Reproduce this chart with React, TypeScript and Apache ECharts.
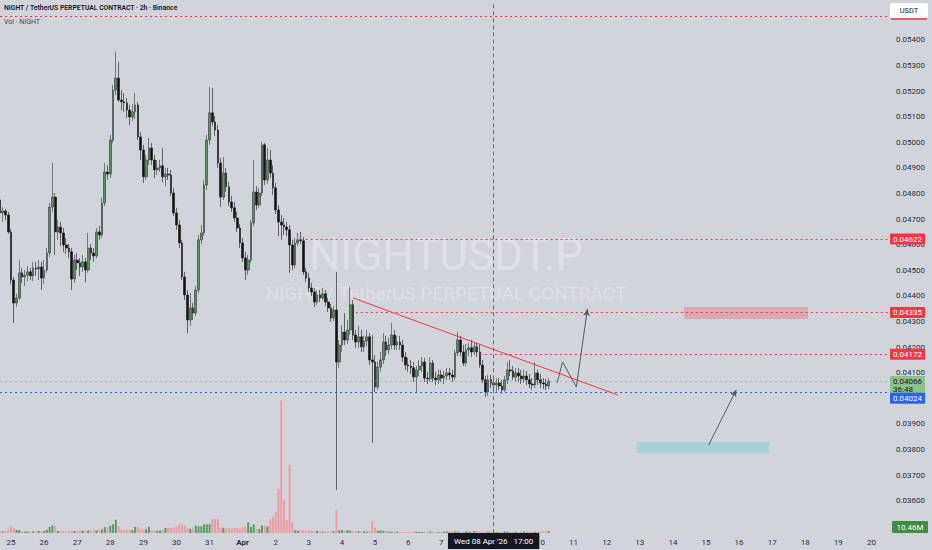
import * as echarts from "echarts";
import { useEffect, useRef } from "react";

// 2h slots, first one at Mar 24 16:00 (UTC), enough to reach the right edge (Apr 20)
const START_UTC = Date.UTC(2026, 2, 24, 16);
const SLOT_HOURS = 2;
const SLOT_COUNT = 323;
const MONTHS = ["Jan", "Feb", "Mar", "Apr", "May", "Jun", "Jul", "Aug", "Sep", "Oct", "Nov", "Dec"];

// [open, close, low, high]
const candles: number[][] = [
  [0.04775, 0.04724, 0.04712, 0.04794], [0.04724, 0.04732, 0.04689, 0.04747], [0.04732, 0.04716, 0.04697, 0.0474],
  [0.04716, 0.0465, 0.04642, 0.04728], [0.0465, 0.04462, 0.04447, 0.04661], [0.04462, 0.04372, 0.04294, 0.04474],
  [0.04372, 0.04392, 0.04357, 0.04408], [0.04392, 0.0449, 0.04384, 0.0454], [0.0449, 0.04474, 0.04451, 0.04509],
  [0.04474, 0.04482, 0.04439, 0.04501], [0.04482, 0.04494, 0.04458, 0.04517], [0.04494, 0.04478, 0.04462, 0.04509],
  [0.04478, 0.04509, 0.04458, 0.04533], [0.04509, 0.04505, 0.04478, 0.04533], [0.04505, 0.04513, 0.04462, 0.0454],
  [0.04513, 0.0447, 0.04423, 0.04533], [0.0447, 0.04501, 0.04447, 0.0454], [0.04501, 0.04568, 0.0449, 0.04587],
  [0.04568, 0.04747, 0.04552, 0.04763], [0.04747, 0.04786, 0.04728, 0.04919], [0.04786, 0.0465, 0.0456, 0.04802],
  [0.0465, 0.04669, 0.04619, 0.04697], [0.04669, 0.04646, 0.04595, 0.04689], [0.04646, 0.04599, 0.04572, 0.04665],
  [0.04599, 0.04587, 0.04564, 0.04626], [0.04587, 0.04572, 0.04548, 0.04603], [0.04572, 0.04466, 0.04423, 0.04587],
  [0.04466, 0.0454, 0.04451, 0.0456], [0.0454, 0.04529, 0.04501, 0.04568], [0.04529, 0.04513, 0.04478, 0.04548],
  [0.04513, 0.04533, 0.04494, 0.0456], [0.04533, 0.04501, 0.04454, 0.04548], [0.04501, 0.04587, 0.0449, 0.04646],
  [0.04587, 0.04568, 0.0454, 0.04603], [0.04568, 0.04556, 0.04533, 0.04587], [0.04556, 0.0465, 0.04548, 0.04665],
  [0.0465, 0.04638, 0.04619, 0.04673], [0.04638, 0.04763, 0.04626, 0.04783], [0.04763, 0.04884, 0.04751, 0.04919],
  [0.04884, 0.04876, 0.04853, 0.04911], [0.04876, 0.05009, 0.04861, 0.05029], [0.05009, 0.05204, 0.04997, 0.05224],
  [0.05204, 0.05251, 0.05185, 0.05353], [0.05251, 0.05165, 0.05158, 0.05314], [0.05165, 0.05158, 0.05126, 0.05204],
  [0.05158, 0.05154, 0.05119, 0.05193], [0.05154, 0.05126, 0.05095, 0.05173], [0.05126, 0.05099, 0.05068, 0.05146],
  [0.05099, 0.05119, 0.05083, 0.0515], [0.05119, 0.05146, 0.05091, 0.05193], [0.05146, 0.05021, 0.05009, 0.05158],
  [0.05021, 0.0497, 0.04931, 0.0504], [0.0497, 0.04865, 0.04841, 0.0499], [0.04865, 0.04931, 0.04853, 0.04951],
  [0.04931, 0.04978, 0.04911, 0.05017], [0.04978, 0.04931, 0.04911, 0.04997], [0.04931, 0.04892, 0.04861, 0.04951],
  [0.04892, 0.049, 0.04872, 0.04931], [0.049, 0.04908, 0.04884, 0.04931], [0.04908, 0.04865, 0.04845, 0.04978],
  [0.04865, 0.04876, 0.04829, 0.049], [0.04876, 0.04872, 0.04853, 0.049], [0.04872, 0.04802, 0.0479, 0.04892],
  [0.04802, 0.04724, 0.04712, 0.04822], [0.04724, 0.04677, 0.04658, 0.04744], [0.04677, 0.04607, 0.04587, 0.04697],
  [0.04607, 0.04474, 0.04462, 0.04619], [0.04474, 0.04404, 0.04384, 0.04494], [0.04404, 0.04306, 0.04255, 0.04423],
  [0.04306, 0.04353, 0.04283, 0.04411], [0.04353, 0.04333, 0.04306, 0.04372], [0.04333, 0.04423, 0.04322, 0.04439],
  [0.04423, 0.04619, 0.04411, 0.04638], [0.04619, 0.04646, 0.04603, 0.04677], [0.04646, 0.04833, 0.04634, 0.04853],
  [0.04833, 0.05009, 0.04814, 0.05029], [0.05009, 0.05115, 0.0499, 0.05216], [0.05115, 0.05079, 0.05064, 0.05212],
  [0.05079, 0.05048, 0.05025, 0.05103], [0.05048, 0.04919, 0.049, 0.05068], [0.04919, 0.04786, 0.04747, 0.04939],
  [0.04786, 0.0488, 0.04775, 0.04943], [0.0488, 0.04826, 0.04806, 0.049], [0.04826, 0.04767, 0.04751, 0.04845],
  [0.04767, 0.04744, 0.04728, 0.0479], [0.04744, 0.04704, 0.04689, 0.04767], [0.04704, 0.04665, 0.0465, 0.04728],
  [0.04665, 0.04607, 0.04587, 0.04681], [0.04607, 0.04548, 0.04533, 0.04626], [0.04548, 0.04501, 0.04462, 0.04572],
  [0.04501, 0.0454, 0.04482, 0.0456], [0.0454, 0.04685, 0.04529, 0.04697], [0.04685, 0.04806, 0.04673, 0.04931],
  [0.04806, 0.04755, 0.04736, 0.04829], [0.04755, 0.04802, 0.04744, 0.04822], [0.04802, 0.0499, 0.0479, 0.05001],
  [0.0499, 0.04853, 0.04833, 0.04997], [0.04853, 0.04931, 0.04837, 0.04978], [0.04931, 0.0488, 0.04861, 0.0497],
  [0.0488, 0.04822, 0.04794, 0.04911], [0.04822, 0.04736, 0.0472, 0.04841], [0.04736, 0.04689, 0.04634, 0.04755],
  [0.04689, 0.04677, 0.04619, 0.04716], [0.04677, 0.04669, 0.04638, 0.04704], [0.04669, 0.04658, 0.04634, 0.04689],
  [0.04658, 0.04599, 0.0449, 0.04677], [0.04599, 0.04521, 0.04501, 0.04619], [0.04521, 0.04607, 0.04509, 0.04626],
  [0.04607, 0.04619, 0.04595, 0.04646], [0.04619, 0.04615, 0.04603, 0.0465], [0.04615, 0.04494, 0.04482, 0.0463],
  [0.04494, 0.0447, 0.04454, 0.04509], [0.0447, 0.04431, 0.04415, 0.0449], [0.04431, 0.04415, 0.044, 0.04451],
  [0.04415, 0.04376, 0.04357, 0.04431], [0.04376, 0.04404, 0.04365, 0.04423], [0.04404, 0.04392, 0.04376, 0.04423],
  [0.04392, 0.04408, 0.04384, 0.04431], [0.04408, 0.04376, 0.04361, 0.04423], [0.04376, 0.04353, 0.04337, 0.04392],
  [0.04353, 0.04314, 0.04298, 0.04369], [0.04314, 0.04345, 0.04302, 0.04361], [0.04345, 0.04142, 0.03642, 0.04494],
  [0.04142, 0.04208, 0.04119, 0.04228], [0.04208, 0.04259, 0.04181, 0.04286], [0.04259, 0.04228, 0.04208, 0.04333],
  [0.04228, 0.04267, 0.04212, 0.04306], [0.04267, 0.04365, 0.04247, 0.04435], [0.04365, 0.04247, 0.04228, 0.04384],
  [0.04247, 0.0422, 0.04197, 0.04267], [0.0422, 0.0424, 0.04197, 0.04283], [0.0424, 0.04201, 0.04181, 0.04267],
  [0.04201, 0.04224, 0.04181, 0.04244], [0.04224, 0.0424, 0.04204, 0.04267], [0.0424, 0.0415, 0.0413, 0.04255],
  [0.0415, 0.04142, 0.03826, 0.04247], [0.04142, 0.04044, 0.04025, 0.04169], [0.04044, 0.04122, 0.04033, 0.04142],
  [0.04122, 0.0415, 0.04103, 0.04181], [0.0415, 0.0422, 0.04134, 0.04255], [0.0422, 0.04189, 0.04165, 0.04244],
  [0.04189, 0.04208, 0.04173, 0.04236], [0.04208, 0.04247, 0.04193, 0.04294], [0.04247, 0.04208, 0.04189, 0.04267],
  [0.04208, 0.0422, 0.04189, 0.04244], [0.0422, 0.04208, 0.04189, 0.04244], [0.04208, 0.04161, 0.04142, 0.04228],
  [0.04161, 0.0413, 0.04111, 0.04181], [0.0413, 0.04126, 0.04103, 0.04158], [0.04126, 0.04119, 0.04095, 0.0415],
  [0.04119, 0.04083, 0.04064, 0.04142], [0.04083, 0.04111, 0.04021, 0.04126], [0.04111, 0.04126, 0.04087, 0.0415],
  [0.04126, 0.04142, 0.04103, 0.04161], [0.04142, 0.04079, 0.04064, 0.04158], [0.04079, 0.04076, 0.04056, 0.04103],
  [0.04076, 0.04138, 0.04064, 0.04161], [0.04138, 0.04079, 0.04064, 0.0415], [0.04079, 0.04072, 0.04052, 0.04103],
  [0.04072, 0.04091, 0.04056, 0.04111], [0.04091, 0.04079, 0.04064, 0.04111], [0.04079, 0.04087, 0.04056, 0.04107],
  [0.04087, 0.04099, 0.04072, 0.04119], [0.04099, 0.04091, 0.04072, 0.04119], [0.04091, 0.04083, 0.04064, 0.04111],
  [0.04083, 0.04177, 0.04072, 0.04189], [0.04177, 0.04228, 0.04165, 0.04259], [0.04228, 0.04181, 0.04165, 0.04244],
  [0.04181, 0.04138, 0.04126, 0.04208], [0.04138, 0.04189, 0.04126, 0.04212], [0.04189, 0.04197, 0.04165, 0.04216],
  [0.04197, 0.04181, 0.04161, 0.04228], [0.04181, 0.04201, 0.04169, 0.04216], [0.04201, 0.04181, 0.04161, 0.04216],
  [0.04181, 0.0413, 0.04119, 0.04208], [0.0413, 0.04072, 0.0406, 0.0415], [0.04072, 0.04025, 0.04005, 0.04087],
  [0.04025, 0.04072, 0.04009, 0.04091], [0.04072, 0.0406, 0.0404, 0.04091], [0.0406, 0.04052, 0.04033, 0.04083],
  [0.04052, 0.0406, 0.04025, 0.04079], [0.0406, 0.04048, 0.04033, 0.04079], [0.04048, 0.04033, 0.04017, 0.04072],
  [0.04033, 0.04072, 0.04025, 0.04087], [0.04072, 0.04111, 0.04056, 0.04142], [0.04111, 0.04107, 0.04087, 0.0415],
  [0.04107, 0.04083, 0.04072, 0.04126], [0.04083, 0.04099, 0.04068, 0.04119], [0.04099, 0.04087, 0.04064, 0.04119],
  [0.04087, 0.04076, 0.04056, 0.04111], [0.04076, 0.04087, 0.0406, 0.04111], [0.04087, 0.04072, 0.04052, 0.04107],
  [0.04072, 0.04056, 0.0404, 0.04095], [0.04056, 0.04052, 0.04033, 0.04079], [0.04052, 0.04099, 0.0404, 0.04142],
  [0.04099, 0.04072, 0.04052, 0.04111], [0.04072, 0.0406, 0.0404, 0.04095], [0.0406, 0.04056, 0.04036, 0.04079],
  [0.04056, 0.04048, 0.04033, 0.04076], [0.04048, 0.04066, 0.04036, 0.04079],
];

// volume per candle, in millions
const volumes: number[] = [
  10, 9, 11, 25, 40, 32, 18, 18, 10, 8,
  9, 8, 10, 8, 12, 12, 12, 20, 36, 46,
  40, 12, 11, 12, 10, 12, 14, 12, 12, 16,
  14, 12, 16, 12, 18, 16, 20, 22, 36, 34,
  44, 52, 80, 40, 20, 18, 20, 20, 18, 36,
  36, 24, 24, 22, 36, 18, 16, 14, 16, 18,
  30, 32, 30, 34, 36, 52, 52, 44, 28, 26,
  28, 44, 40, 40, 52, 52, 52, 84, 84, 84,
  32, 32, 28, 30, 28, 32, 30, 26, 34, 40,
  64, 36, 52, 24, 24, 44, 44, 40, 84, 100,
  126, 264, 798, 198, 78, 408, 66, 16, 14, 16,
  18, 14, 16, 14, 12, 14, 10, 8, 9, 10,
  8, 10, 138, 16, 18, 14, 18, 14, 10, 12,
  10, 9, 10, 8, 10, 72, 32, 14, 16, 12,
  14, 8, 7, 9, 8, 6, 7, 8, 6, 7,
  9, 8, 7, 6, 8, 7, 9, 8, 7, 6,
  7, 8, 9, 12, 10, 8, 9, 7, 8, 10,
  8, 9, 11, 12, 8, 7, 9, 8, 10, 7,
  6, 8, 9, 10, 8, 7, 6, 8, 7, 9,
  8, 10, 9, 8, 7, 9, 8, 10, 9, 10.46,
];

// drawn levels
const topLine = 0.05494;
const redLevels = [0.04622, 0.04335, 0.04172];
const redLevelStartSlots = [109, 129, 174];
const lastPrice = 0.04066;
const countdown = "36:48";
const blueLevel = 0.04024;
const lastVolumeLabel = "10.46M";

// trendline and projected paths: [slot, price]
const trendLine = [[128, 0.04392], [224, 0.04013]];
const projection = [[202, 0.0406], [204, 0.04142], [209, 0.04044], [213, 0.04349]];
const targetArrow = [[257, 0.03818], [267, 0.04033]];
// zones: [fromSlot, toSlot, topPrice, bottomPrice]
const sellZone = [248, 293, 0.04357, 0.0431];
const buyZone = [231, 279, 0.03829, 0.03786];

const crosshairSlot = 179;
const crosshairLabel = "Wed 08 Apr '26   17:00";

const FONT = "Roboto, 'Noto Sans', sans-serif";
const RED = "#f23645";
const BG = "#d2d4dc";
const TEXT = "#2a2e39";

const slots = Array.from({ length: SLOT_COUNT }, (_, k) => {
  const d = new Date(START_UTC + k * SLOT_HOURS * 3600e3);
  return `${d.getUTCMonth()}-${d.getUTCDate()}-${d.getUTCHours()}`;
});

const tag = (bg: string, color = "#fff") => ({
  show: true,
  position: "end" as const,
  distance: 2,
  color,
  backgroundColor: bg,
  fontFamily: FONT,
  fontSize: 8,
  lineHeight: 8,
  padding: [2, 3, 1, 3],
  borderRadius: 1,
});

const dotted = (color: string) => ({ color, type: [2, 3] as number[], width: 1 });

const App = () => {
  const chartRef = useRef<HTMLDivElement>(null);

  useEffect(() => {
    if (!chartRef.current) return;

    const chart = echarts.init(chartRef.current, undefined, { renderer: "svg" });
    const last = SLOT_COUNT - 1;

    const markLineData: any[] = [
      { yAxis: topLine, lineStyle: dotted(RED) },
      ...redLevels.map((p, k) => [
        { coord: [redLevelStartSlots[k], p], lineStyle: dotted(RED), label: { ...tag(RED), formatter: p.toFixed(5) } },
        { coord: [last, p] },
      ]),
      {
        yAxis: lastPrice,
        lineStyle: dotted("rgba(130,134,145,0.55)"),
        label: { ...tag("#8cc08e", "#131722"), formatter: `${lastPrice.toFixed(5)}\n${countdown}`, padding: [2, 3, 1, 3], offset: [0, 4] },
      },
      {
        yAxis: blueLevel,
        lineStyle: dotted("#2962ff"),
        label: { ...tag("#2962ff"), formatter: blueLevel.toFixed(5), offset: [0, 6] },
      },
      [
        { coord: trendLine[0], lineStyle: { color: RED, type: "solid", width: 1 } },
        { coord: trendLine[1] },
      ],
      ...projection.slice(1).map((pt, k) => [
        { coord: projection[k], lineStyle: { color: "#555963", type: "solid", width: 1 } },
        k === projection.length - 2 ? { coord: pt, symbol: "arrow", symbolSize: [5, 7] } : { coord: pt },
      ]),
      [
        { coord: targetArrow[0], lineStyle: { color: "#555963", type: "solid", width: 1 } },
        { coord: targetArrow[1], symbol: "arrow", symbolSize: [5, 7] },
      ],
      { xAxis: slots[crosshairSlot], lineStyle: { color: "#6a6d78", type: [4, 3], width: 1 } },
    ];

    const option: echarts.EChartsOption = {
      animation: false,
      backgroundColor: BG,
      textStyle: { fontFamily: FONT },
      grid: [
        { left: 0, right: 44, top: 1.5, height: 524.8 },
        { left: 0, right: 44, top: 400, bottom: 17 },
      ],
      xAxis: [
        { type: "category", gridIndex: 0, data: slots, boundaryGap: false, show: false },
        {
          type: "category",
          gridIndex: 1,
          data: slots,
          boundaryGap: false,
          axisLine: { show: false },
          axisTick: { show: false },
          axisLabel: {
            margin: 5,
            fontSize: 8,
            color: TEXT,
            // day labels at midnight; the ones under the crosshair time box are hidden by it
            interval: (i: number, v: string) => v.endsWith("-0") && Math.abs(i - crosshairSlot) > 14,
            formatter: (v: string) => {
              const [m, day, h] = v.split("-").map(Number);
              if (h !== 0) return "";
              return day === 1 ? `{b|${MONTHS[m]}}` : String(day);
            },
            rich: { b: { fontWeight: "bold", fontSize: 8, color: TEXT } },
          },
        },
      ],
      yAxis: [
        {
          type: "value",
          gridIndex: 0,
          position: "right",
          min: 0.035,
          max: 0.0555,
          interval: 0.001,
          splitLine: { show: false },
          axisLine: { show: false },
          axisTick: { show: false },
          axisLabel: {
            margin: 8,
            fontSize: 8,
            color: TEXT,
            // 0.04000 sits under the price tags
            formatter: (v: number) =>
              v < 0.0355 || v > 0.0545 || Math.abs(v - 0.04) < 1e-6 ? "" : v.toFixed(5),
          },
        },
        { type: "value", gridIndex: 1, min: 0, max: 800, show: false },
      ],
      series: [
        {
          type: "candlestick",
          xAxisIndex: 0,
          yAxisIndex: 0,
          data: candles,
          barWidth: 2.2,
          itemStyle: {
            color: "#55955a",
            color0: "#141414",
            borderColor: "#30353a",
            borderColor0: "#141414",
            borderWidth: 0.6,
          },
          markLine: {
            silent: true,
            animation: false,
            precision: 5,
            symbol: ["none", "none"],
            label: { show: false },
            data: markLineData,
          },
          markArea: {
            silent: true,
            data: [
              [
                { coord: [sellZone[0], sellZone[2]], itemStyle: { color: "rgba(242,54,69,0.28)" } },
                { coord: [sellZone[1], sellZone[3]] },
              ],
              [
                { coord: [buyZone[0], buyZone[2]], itemStyle: { color: "#a9cfdb" } },
                { coord: [buyZone[1], buyZone[3]] },
              ],
            ],
          },
        },
        {
          type: "bar",
          xAxisIndex: 1,
          yAxisIndex: 1,
          data: volumes,
          barWidth: 2,
          itemStyle: {
            color: (p: any) => {
              const c = candles[p.dataIndex];
              return c && c[1] >= c[0] ? "#5a9c5d" : "#ee9aa3";
            },
          },
          markLine: {
            silent: true,
            animation: false,
            symbol: ["none", "none"],
            data: [
              {
                xAxis: slots[crosshairSlot],
                lineStyle: { color: "#6a6d78", type: [4, 3], width: 1 },
                label: {
                  show: true,
                  position: "start",
                  distance: 0,
                  formatter: crosshairLabel,
                  color: "#fff",
                  backgroundColor: "#131722",
                  fontFamily: FONT,
                  fontSize: 8,
                  padding: [4, 6, 4, 6],
                },
              },
            ],
          },
        },
      ],
      graphic: [
        {
          type: "text",
          x: 446,
          y: 255,
          z: 0,
          style: { text: "NIGHTUSDT.P", fill: "rgba(255,255,255,0.32)", fontSize: 44, fontFamily: FONT, align: "center", verticalAlign: "middle" },
        },
        {
          type: "text",
          x: 446,
          y: 293,
          z: 0,
          style: { text: "NIGHT / TetherUS PERPETUAL CONTRACT", fill: "rgba(255,255,255,0.32)", fontSize: 19, fontFamily: FONT, align: "center", verticalAlign: "middle" },
        },
        {
          type: "text",
          x: 4,
          y: 4,
          z: 20,
          style: { text: "NIGHT / TetherUS PERPETUAL CONTRACT · 2h · Binance", fill: "#131722", fontSize: 6.8, fontWeight: 600, fontFamily: FONT },
        },
        {
          type: "text",
          x: 4,
          y: 18.5,
          z: 20,
          style: { text: "Vol · NIGHT", fill: "#434651", fontSize: 7, fontFamily: FONT },
        },
        {
          type: "group",
          z: 50,
          children: [
            { type: "rect", shape: { x: 890, y: 3, width: 38, height: 15, r: 2 }, style: { fill: "#ffffff" } },
            { type: "text", x: 909, y: 10.5, style: { text: "USDT", fill: "#131722", fontSize: 7.5, fontFamily: FONT, align: "center", verticalAlign: "middle" } },
            { type: "line", shape: { x1: 891, y1: 19, x2: 927, y2: 19 }, style: { stroke: RED, lineWidth: 1.5 } },
          ],
        },
        {
          type: "group",
          z: 50,
          children: [
            { type: "rect", shape: { x: 892, y: 521, width: 36, height: 12, r: 1 }, style: { fill: "#3f8d43" } },
            { type: "text", x: 910, y: 527, style: { text: lastVolumeLabel, fill: "#ffffff", fontSize: 8, fontFamily: FONT, align: "center", verticalAlign: "middle" } },
          ],
        },
      ],
    };

    chart.setOption(option);

    const handleResize = () => chart.resize();
    window.addEventListener("resize", handleResize);

    return () => {
      window.removeEventListener("resize", handleResize);
      chart.dispose();
    };
  }, []);

  return <div ref={chartRef} style={{ position: "fixed", left: 0, top: 0, width: "932px", height: "550px" }} />;
};

export default App;
